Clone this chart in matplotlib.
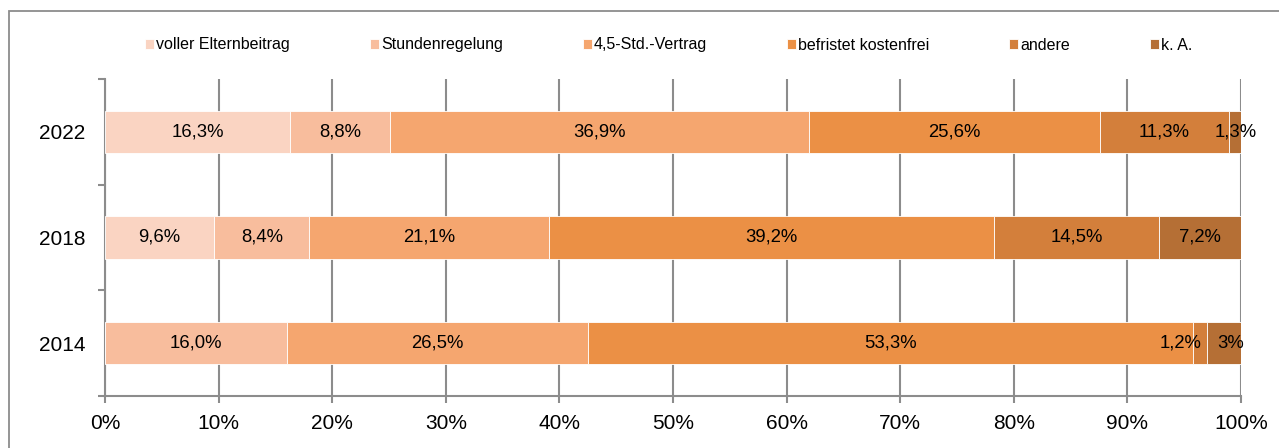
import numpy as np
import matplotlib
matplotlib.use("Agg")
import matplotlib.pyplot as plt
import matplotlib.patches as patches

plt.rcParams['font.family'] = ['Liberation Sans', 'DejaVu Sans']

# Data
years = ["2014", "2018", "2022"]
series = ["voller Elternbeitrag", "Stundenregelung", "4,5-Std.-Vertrag",
          "befristet kostenfrei", "andere", "k. A."]

voller = [0.0, 9.6, 16.3]
stunden = [16.0, 8.4, 8.8]
vertrag = [26.5, 21.1, 36.9]
befristet = [53.3, 39.2, 25.6]
andere = [1.2, 14.5, 11.3]
keine_angabe = [3.0, 7.2, 1.3]

# the chart prints "3%" for k. A. in 2014
label_override = {(5, 0): "3%"}
# small labels in 2014 are nudged sideways so they don't collide
label_shift = {(4, 0): -1.7, (5, 0): 0.6}

colors = ["#FAD4C2", "#F8BD9D", "#F5A66F", "#EB9045", "#D37F3B", "#B56F35"]
grey = "#8c8c8c"

W, H = 1279, 448
fig = plt.figure(figsize=(W / 100, H / 100), dpi=100)
ax = fig.add_axes([105 / W, 1 - 396 / H, 1136 / W, 317 / H])

y = np.arange(len(years))
left = np.zeros(len(years))
all_values = [voller, stunden, vertrag, befristet, andere, keine_angabe]

for s, (name, vals, col) in enumerate(zip(series, all_values, colors)):
    vals = np.array(vals)
    ax.barh(y, vals, left=left, height=0.4, color=col, edgecolor="white",
            linewidth=0.6, label=name, zorder=3)
    for i, v in enumerate(vals):
        if v > 0:
            txt = label_override.get((s, i), f"{v:.1f}".replace(".", ",") + "%")
            xpos = left[i] + v / 2 + label_shift.get((s, i), 0)
            ax.text(xpos, i, txt, ha="center", va="center",
                    fontsize=13.3, color="black", zorder=4)
    left += vals

ax.set_xlim(0, 100)
ax.set_ylim(-0.5, 2.5)

ax.set_xticks(range(0, 101, 10))
ax.set_xticklabels([f"{t}%" for t in range(0, 101, 10)])
ax.grid(axis="x", color=grey, linewidth=1.5, zorder=0)
ax.set_axisbelow(True)

for side in ["top", "right"]:
    ax.spines[side].set_visible(False)
for side in ["left", "bottom"]:
    ax.spines[side].set_color(grey)
    ax.spines[side].set_linewidth(1.5)

ax.tick_params(axis="x", length=5, width=1.5, color=grey, labelsize=15, pad=8)
ax.set_yticks(y)
ax.set_yticklabels(years)
ax.tick_params(axis="y", which="major", length=0, pad=14, labelsize=15)
ax.set_yticks([-0.5, 0.5, 1.5, 2.5], minor=True)
ax.tick_params(axis="y", which="minor", length=5, width=1.5, color=grey)

# outer frame (only top and left visible in the original)
fig.add_artist(patches.Rectangle((9 / W, -0.1), 1.2, 1 - 11 / H + 0.1,
                                 transform=fig.transFigure, fill=False,
                                 edgecolor=grey, linewidth=1.3))

handles, labels = ax.get_legend_handles_labels()
fig.legend(handles, labels, loc="center", bbox_to_anchor=(669 / W, 1 - 45 / H),
           ncol=6, frameon=False, fontsize=11.5, handlelength=0.55,
           handleheight=0.55, handletextpad=0.15, columnspacing=5.0)

fig.savefig("out.png", dpi=100)
